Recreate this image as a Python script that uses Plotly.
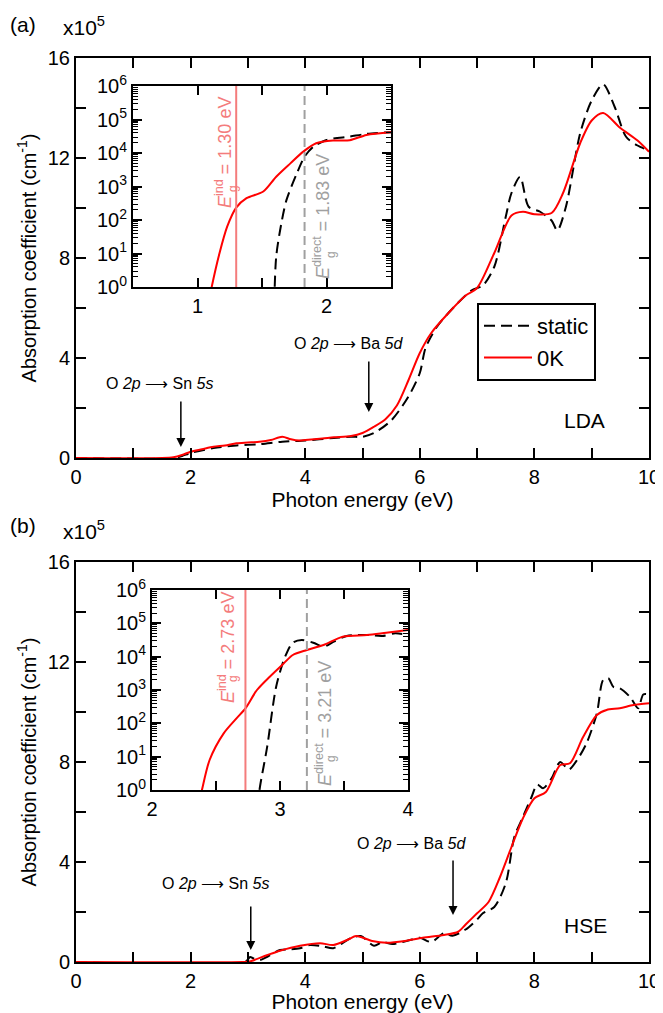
import plotly.graph_objects as go

# ---------------- data (panel a, LDA) ----------------
lda_E_0K = [0, 1.5, 1.7, 1.85, 2.0, 2.2, 2.4, 2.6, 2.8, 3.0, 3.2, 3.4, 3.6, 3.75, 3.9, 4.0, 4.3, 4.5, 4.8,
            5.0, 5.2, 5.4, 5.6, 5.8, 6.0, 6.2, 6.5, 6.8, 7.0, 7.3, 7.6, 7.8, 8.0, 8.3, 8.5, 8.8, 9.0, 9.2,
            9.5, 9.8, 10.0]
lda_A_0K = [0, 0, 0.03, 0.12, 0.25, 0.35, 0.45, 0.5, 0.59, 0.62, 0.65, 0.72, 0.85, 0.75, 0.7, 0.72, 0.78, 0.83, 0.88,
            1.0, 1.25, 1.55, 2.1, 3.1, 4.2, 5.0, 5.8, 6.5, 6.8, 8.2, 9.7, 9.85, 9.75, 9.8, 10.6, 12.6, 13.5, 13.8,
            13.2, 12.7, 12.25]
lda_E_st = [0, 1.7, 1.85, 2.0, 2.4, 2.8, 3.2, 3.6, 4.0, 4.5, 4.8, 5.0, 5.2, 5.5, 5.8, 6.0, 6.1, 6.3, 6.6, 6.9,
            7.1, 7.3, 7.5, 7.6, 7.75, 7.9, 8.1, 8.3, 8.4, 8.55, 8.8, 9.0, 9.2, 9.4, 9.6, 9.8, 10.0]
lda_A_st = [0, 0, 0.08, 0.2, 0.4, 0.5, 0.55, 0.65, 0.7, 0.8, 0.85, 0.85, 1.0, 1.5, 2.45, 3.4, 4.4, 5.25, 6.05, 6.7,
            6.9, 7.65, 9.65, 10.6, 11.25, 10.05, 9.85, 9.5, 9.1, 10.05, 13.0, 14.3, 14.95, 14.05, 12.85, 12.5, 12.3]

# inset (a): log10 of absorption coefficient
lda_in_E_0K = [1.08, 1.11, 1.17, 1.23, 1.30, 1.38, 1.51, 1.61, 1.72, 1.82, 1.92, 2.05, 2.18, 2.31, 2.5]
lda_in_L_0K = [-0.6, 0.0, 1.0, 1.8, 2.37, 2.65, 2.85, 3.29, 3.69, 4.04, 4.29, 4.37, 4.38, 4.54, 4.62]
lda_in_E_st = [1.595, 1.61, 1.65, 1.69, 1.77, 1.83, 1.90, 2.0, 2.18, 2.31, 2.5]
lda_in_L_st = [-0.5, 0.9, 1.9, 2.6, 3.39, 3.89, 4.19, 4.39, 4.49, 4.57, 4.62]
lda_gap_ind = 1.30
lda_gap_dir = 1.83

# ---------------- data (panel b, HSE) ----------------
hse_E_0K = [0, 2.9, 3.03, 3.33, 3.56, 3.91, 4.26, 4.49, 4.75, 4.89, 5.17, 5.42, 5.74, 6.05, 6.42, 6.67, 6.8, 7.0,
            7.2, 7.4, 7.6, 7.8, 8.0, 8.2, 8.45, 8.62, 8.85, 9.09, 9.26, 9.49, 9.73, 10.0]
hse_A_0K = [0, 0, 0.02, 0.27, 0.45, 0.65, 0.75, 0.68, 0.9, 1.04, 0.84, 0.77, 0.84, 0.97, 1.08, 1.21, 1.5, 1.95,
            2.4, 3.4, 4.6, 5.75, 6.55, 6.8, 7.88, 7.95, 9.0, 9.88, 10.08, 10.15, 10.28, 10.35]
hse_E_st = [0, 2.95, 3.04, 3.09, 3.21, 3.33, 3.56, 3.73, 3.91, 4.08, 4.32, 4.49, 4.79, 4.97, 5.2, 5.35, 5.52, 5.83,
            6.0, 6.2, 6.42, 6.57, 6.8, 7.0, 7.1, 7.3, 7.5, 7.65, 7.8, 7.95, 8.05, 8.15, 8.3, 8.45, 8.6, 8.75, 8.91,
            9.09, 9.2, 9.29, 9.38, 9.49, 9.67, 9.81, 9.9, 10.0]
hse_A_st = [0, 0, 0.2, 0.15, 0.08, 0.2, 0.48, 0.5, 0.55, 0.68, 0.62, 0.55, 0.95, 1.04, 0.65, 0.8, 0.72, 0.88,
            0.97, 0.8, 1.15, 1.05, 1.3, 1.7, 1.95, 2.2, 3.15, 5.0, 5.8, 6.6, 7.1, 6.95, 7.35, 8.0, 7.7, 8.1, 8.75,
            9.95, 11.28, 11.35, 11.0, 10.95, 10.6, 10.15, 10.7, 10.7]

hse_in_E_0K = [2.36, 2.39, 2.45, 2.56, 2.66, 2.73, 2.82, 2.92, 3.03, 3.10, 3.21, 3.34, 3.49, 3.68, 3.83, 4.0]
hse_in_L_0K = [-0.5, 0.0, 0.9, 1.7, 2.15, 2.45, 3.0, 3.4, 3.8, 4.05, 4.2, 4.35, 4.6, 4.65, 4.72, 4.8]
hse_in_E_st = [2.83, 2.84, 2.90, 2.97, 3.04, 3.10, 3.17, 3.26, 3.34, 3.42, 3.52, 3.68, 3.80, 3.90, 4.0]
hse_in_L_st = [-0.5, 0.0, 1.3, 3.1, 4.0, 4.42, 4.5, 4.42, 4.3, 4.45, 4.62, 4.65, 4.62, 4.7, 4.65]
hse_gap_ind = 2.73
hse_gap_dir = 3.21

main_xticks = list(range(0, 11))
main_xtext = ["0", "", "2", "", "4", "", "6", "", "8", "", "10"]
main_yticks = list(range(0, 17, 2))
main_ytext = ["0", "", "4", "", "8", "", "12", "", "16"]
log_ticks = [0, 1, 2, 3, 4, 5, 6]

# ---------------- styling ----------------
FONT = "Liberation Sans, Arial, sans-serif"
RED = "#ff0000"
SALMON = "#f47c7c"
GRAY = "#a0a0a0"
DASH = "11px,6px"

# page has an 8px body margin: work in window pixels and convert
OFF = 8
W, H = 663 - OFF, 1013 - OFF
def px(x):
    return (x - OFF) / W
def py(y):
    return 1 - (y - OFF) / H
def ydom(top_px, bot_px):
    return [py(bot_px), py(top_px)]

fig = go.Figure()

def add_pair(xa, ya, Es, As, Er, Ar, legend, log=False):
    ys = [10 ** v for v in As] if log else As
    yr = [10 ** v for v in Ar] if log else Ar
    fig.add_trace(go.Scatter(x=Es, y=ys, xaxis=xa, yaxis=ya, mode="lines", name="static",
                             line=dict(color="black", width=2, dash=DASH, shape="spline", smoothing=0.8),
                             showlegend=legend))
    fig.add_trace(go.Scatter(x=Er, y=yr, xaxis=xa, yaxis=ya, mode="lines", name="0K",
                             line=dict(color=RED, width=2, shape="spline", smoothing=0.8),
                             showlegend=legend))

add_pair("x", "y", lda_E_st, lda_A_st, lda_E_0K, lda_A_0K, True)
add_pair("x2", "y2", hse_E_st, hse_A_st, hse_E_0K, hse_A_0K, False)
add_pair("x3", "y3", lda_in_E_st, lda_in_L_st, lda_in_E_0K, lda_in_L_0K, False, log=True)
add_pair("x4", "y4", hse_in_E_st, hse_in_L_st, hse_in_E_0K, hse_in_L_0K, False, log=True)

X_DOM = [px(76), px(649)]

def base(size):
    return dict(showline=True, linewidth=2, linecolor="black", mirror="ticks", ticks="inside",
                ticklen=10, tickwidth=2, tickcolor="black", showgrid=False, zeroline=False, automargin=False,
                tickfont=dict(family=FONT, size=size, color="black"))

title_x = dict(text="Photon energy (eV)", font=dict(family=FONT, size=21, color="black"), standoff=0)
title_y = dict(text="Absorption coefficient (cm<sup>-1</sup>)", font=dict(family=FONT, size=20, color="black"),
               standoff=6)

fig.update_layout(
    xaxis=dict(domain=X_DOM, range=[0, 10], anchor="y", tickmode="array", tickvals=main_xticks,
               ticktext=main_xtext, title=title_x, **base(20)),
    yaxis=dict(domain=ydom(58, 458), range=[0, 16], anchor="x", tickmode="array", tickvals=main_yticks,
               ticktext=main_ytext, title=title_y, **base(20)),
    xaxis2=dict(domain=X_DOM, range=[0, 10], anchor="y2", tickmode="array", tickvals=main_xticks,
                ticktext=main_xtext, title=title_x, **base(20)),
    yaxis2=dict(domain=ydom(562, 962), range=[0, 16], anchor="x2", tickmode="array", tickvals=main_yticks,
                ticktext=main_ytext, title=title_y, **base(20)),
)

minor_vals = [m * 10 ** k for k in range(0, 6) for m in range(2, 10)]

def log_axis(domain, anchor, right=False):
    d = base(20)
    d.update(ticklen=9)
    ax = dict(domain=domain, type="log", range=[0, 6], anchor=anchor, tickmode="array",
              tickvals=[10 ** k for k in log_ticks],
              ticktext=["10<sup>%d</sup>" % k for k in log_ticks],
              minor=dict(tickmode="array", tickvals=minor_vals,
                         ticks="inside", ticklen=5, tickwidth=1, tickcolor="black", showgrid=False),
              **d)
    if right:
        ax.update(side="right", showticklabels=False, mirror=False)
    return ax

fig.update_layout(
    xaxis3=dict(domain=[px(133), px(391)], range=[0.5, 2.5], anchor="y3", tickmode="array",
                tickvals=[0.5, 1, 1.5, 2, 2.5], ticktext=["", "1", "", "2", ""], **dict(base(20), ticklen=9)),
    yaxis3=log_axis(ydom(86, 287), "x3"),
    yaxis5=dict(log_axis(ydom(86, 287), "x3", right=True), overlaying="y3"),
    xaxis4=dict(domain=[px(152), px(408)], range=[2, 4], anchor="y4", tickmode="array",
                tickvals=[2, 2.5, 3, 3.5, 4], ticktext=["2", "", "3", "", "4"], **dict(base(20), ticklen=9)),
    yaxis4=log_axis(ydom(590, 790), "x4"),
    yaxis6=dict(log_axis(ydom(590, 790), "x4", right=True), overlaying="y4"),
)

# gap lines in insets
shapes = []
for xa, ya, gi, gd in [("x3", "y3", lda_gap_ind, lda_gap_dir), ("x4", "y4", hse_gap_ind, hse_gap_dir)]:
    shapes.append(dict(type="line", xref=xa, yref=ya + " domain", x0=gi, x1=gi, y0=0, y1=1,
                       line=dict(color=SALMON, width=2)))
    shapes.append(dict(type="line", xref=xa, yref=ya + " domain", x0=gd, x1=gd, y0=0, y1=1,
                       line=dict(color=GRAY, width=2, dash="9px,5px")))
fig.update_layout(shapes=shapes)

ann = []
def txt(xref, yref, x, y, text, size=16, color="black", angle=0):
    ann.append(dict(xref=xref, yref=yref, x=x, y=y, text=text, showarrow=False, textangle=angle,
                    xanchor="center", yanchor="middle", font=dict(family=FONT, size=size, color=color)))

def ptxt(x, y, text, size=16, color="black", angle=0):
    txt("paper", "paper", px(x), py(y), text, size, color, angle)

def arrow(xref, yref, x, y0, y1):
    ann.append(dict(xref=xref, yref=yref, axref=xref, ayref=yref, x=x, y=y0, ax=x, ay=y1, text="",
                    showarrow=True, arrowhead=2, arrowsize=1.2, arrowwidth=1.5, arrowcolor="black"))

def gap_label(cx, cy, gx, gy, sup, value, color):
    ptxt(cx, cy, "<i>E</i><sup>%s</sup> = %s eV" % (sup, value), size=18, color=color, angle=-90)
    ptxt(gx, gy, "g", size=12, color=color, angle=-90)

# panel a
ptxt(23, 24, "(a)", size=21)
ptxt(84, 26, "x10<sup>5</sup>", size=21)
txt("x", "y", 1.47, 3.0, "O <i>2p</i> ⟶ Sn <i>5s</i>")
arrow("x", "y", 1.83, 0.44, 2.32)
txt("x", "y", 4.76, 4.6, "O <i>2p</i> ⟶ Ba <i>5d</i>")
arrow("x", "y", 5.11, 1.84, 3.92)
txt("x", "y", 8.88, 1.52, "LDA", size=21)
gap_label(223, 153, 233, 189, "ind", "%.2f" % lda_gap_ind, SALMON)
gap_label(322, 217, 331, 255, "direct", "%.2f" % lda_gap_dir, GRAY)

# panel b
ptxt(23, 525, "(b)", size=21)
ptxt(84, 530, "x10<sup>5</sup>", size=21)
txt("x2", "y2", 2.45, 3.16, "O <i>2p</i> ⟶ Sn <i>5s</i>")
arrow("x2", "y2", 3.05, 0.48, 2.28)
txt("x2", "y2", 5.86, 4.76, "O <i>2p</i> ⟶ Ba <i>5d</i>")
arrow("x2", "y2", 6.58, 1.88, 4.12)
txt("x2", "y2", 8.9, 1.48, "HSE", size=21)
gap_label(226, 647, 233, 679, "ind", "%.2f" % hse_gap_ind, SALMON)
gap_label(323, 724, 331, 759, "direct", "%.2f" % hse_gap_dir, GRAY)

fig.update_layout(
    annotations=ann,
    width=W, height=H,
    margin=dict(l=0, r=0, t=0, b=0),
    paper_bgcolor="white", plot_bgcolor="white",
    font=dict(family=FONT, size=19, color="black"),
    legend=dict(x=px(477), y=py(303), xanchor="left", yanchor="top",
                bordercolor="black", borderwidth=2, bgcolor="white", itemwidth=48,
                font=dict(family=FONT, size=22, color="black"), tracegroupgap=0),
)

fig.write_html("out.html")
